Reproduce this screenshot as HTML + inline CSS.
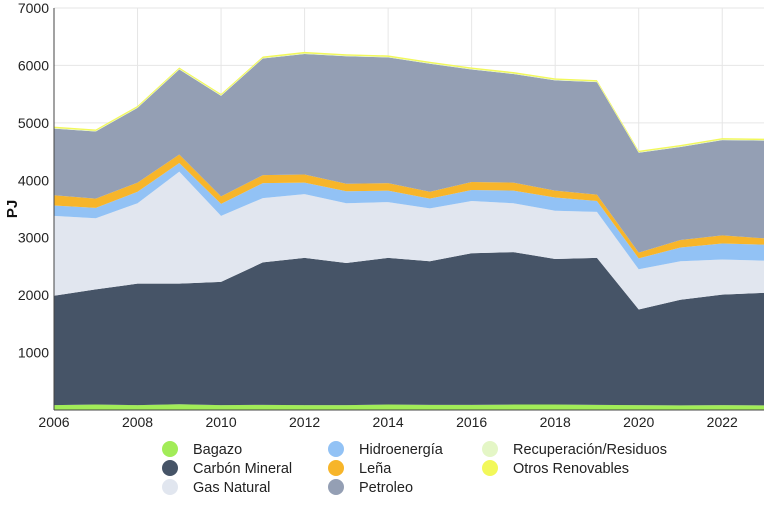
<!DOCTYPE html>
<html><head><meta charset="utf-8"><style>
body{margin:0;background:#fff;font-family:"Liberation Sans",sans-serif;}
svg text{font-family:"Liberation Sans",sans-serif;}
</style></head><body>
<svg id="c" width="768" height="504"></svg>
<script>
const years=[2006,2007,2008,2009,2010,2011,2012,2013,2014,2015,2016,2017,2018,2019,2020,2021,2022,2023];
const bagazo=[85,95,85,100,85,90,85,85,95,90,90,95,95,90,85,80,85,80];
const carbon=[1905,2005,2115,2100,2145,2480,2565,2475,2555,2500,2640,2655,2535,2560,1665,1840,1925,1960];
const gas=[1390,1240,1400,1950,1150,1120,1110,1040,970,920,910,850,840,800,700,670,610,560];
const hidro=[180,180,200,150,210,260,200,210,200,170,190,220,230,190,190,240,280,280];
const lena=[180,160,160,150,130,140,140,130,130,120,140,140,120,110,100,130,140,110];
const petroleo=[1160,1170,1300,1480,1750,2030,2100,2220,2190,2230,1960,1890,1920,1960,1740,1620,1660,1700];
const recup=[10,10,10,10,10,10,10,10,10,10,10,10,10,10,10,10,10,10];
const otros=[25,25,25,25,25,25,25,25,25,25,25,25,25,25,25,25,25,25];
const yTicks=[1000,2000,3000,4000,5000,6000,7000];
const xTicks=[2006,2008,2010,2012,2014,2016,2018,2020,2022];
const seriesNames=["Bagazo","Carbón Mineral","Gas Natural","Hidroenergía","Leña","Petroleo","Recuperación/Residuos","Otros Renovables"];
const seriesData=[bagazo,carbon,gas,hidro,lena,petroleo,recup,otros];
const colors=["#a2ec58","#465467","#e1e6ef","#92c2f5","#f7b52a","#949fb4","#e4f6c6","#f2f85a"];
const L=54,R=764,T=8,B=410;
const x=v=>L+(v-2006)/(2023-2006)*(R-L);
const y=v=>B-v/7000*(B-T);
const svg=document.getElementById('c');
const NS='http://www.w3.org/2000/svg';
function mk(t,a){const e=document.createElementNS(NS,t);for(const k in a)e.setAttribute(k,a[k]);svg.appendChild(e);return e;}
yTicks.forEach(v=>{const g=mk('line',{x1:L,x2:R,y1:y(v),y2:y(v),stroke:'#e6e6e6'});


const t=mk('text',{x:L-5,y:y(v)+5,'text-anchor':'end','font-size':14,fill:'#222'});t.textContent=v;

});
xTicks.forEach(v=>{const g=mk('line',{x1:x(v),x2:x(v),y1:T,y2:B,stroke:'#e6e6e6'});


const t=mk('text',{x:x(v),y:B+17,'text-anchor':'middle','font-size':14,fill:'#222'});t.textContent=v;

});
let base=years.map(()=>0);
seriesData.forEach((s,i)=>{
 const top=base.map((b,j)=>b+s[j]);
 let d='M'+years.map((yr,j)=>x(yr)+','+y(top[j])).join('L');
 for(let j=years.length-1;j>=0;j--)d+='L'+x(years[j])+','+y(base[j]);
 const p=mk('path',{d:d+'Z',fill:colors[i],stroke:'none'});
 
 
 base=top;
});
const ax1=mk('line',{x1:L,x2:L,y1:T,y2:B,stroke:'#444'});


const ax2=mk('line',{x1:L,x2:R,y1:B,y2:B,stroke:'#444'});


const yt=mk('text',{x:0,y:0,transform:'translate(17,209) rotate(-90)','text-anchor':'middle','font-size':15,'font-weight':'bold',fill:'#111'});yt.textContent='PJ';


const lx=[170,336,490],ly=[449,468,487];
seriesNames.forEach((n,i)=>{const c=Math.floor(i/3),r=i%3;
 const ci=mk('circle',{cx:lx[c],cy:ly[r],r:8,fill:colors[i]});
 
 
 const t=mk('text',{x:lx[c]+23,y:ly[r]+5,'font-size':14.5,fill:'#222'});t.textContent=n;
 
 });
</script>
</body></html>
